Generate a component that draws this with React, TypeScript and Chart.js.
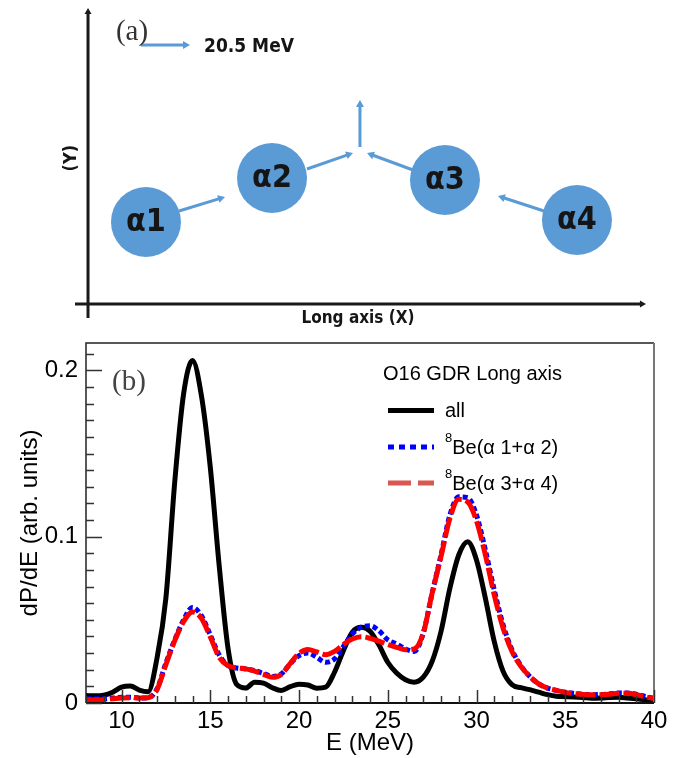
import React, { useEffect, useRef } from 'react';
import { Chart, registerables } from 'chart.js';

Chart.register(...registerables);

const SANS = '"Liberation Sans", Arial, Helvetica, sans-serif';
const SERIF = '"Liberation Serif", "Times New Roman", serif';
const COND = '"DejaVu Sans Condensed", "DejaVu Sans", sans-serif';

// ---------------- Panel (a): diagram (units: x 0..100, y 0..50) ----------------
const ALPHA_LABELS = ['α1', 'α2', 'α3', 'α4'];
const ALPHA_X = [21.31, 39.71, 64.96, 84.23];
const ALPHA_Y = [16.87, 23.43, 23.13, 17.16];

// momentum arrows: α1→α2, α2→centre, α3→centre, α4→α3, upward, scale arrow
const ARROW_X0 = [26.13, 44.82, 60.29, 79.42, 52.55, 20.58];
const ARROW_Y0 = [18.51, 24.78, 24.63, 18.51, 28.06, 43.28];
const ARROW_X1 = [32.85, 51.53, 53.58, 72.7, 52.55, 27.74];
const ARROW_Y1 = [20.6, 27.16, 27.16, 20.75, 35.07, 43.28];

// diagram axes: long axis (X) and (Y)
const AXIS_X0 = [10.95, 12.85];
const AXIS_Y0 = [4.63, 2.54];
const AXIS_X1 = [94.3, 12.85];
const AXIS_Y1 = [4.63, 48.8];

const SCALE_LABEL = '20.5 MeV';
const SCALE_LABEL_POS = [29.78, 42.99];
const LONG_AXIS_TITLE = 'Long axis (X)';
const LONG_AXIS_POS = [52.26, 2.39];
const Y_TITLE = '(Y)';
const Y_TITLE_POS = [10.4, 26.4];
const PANEL_A = '(a)';
const PANEL_A_POS = [19.27, 45.2];

// ---------------- Panel (b): dP/dE spectra ----------------
const ENERGY = [
  8, 8.5, 9, 9.5, 10, 10.5, 11, 11.5, 12, 12.5, 13, 13.5, 14, 14.5, 15, 15.5,
  16, 16.5, 17, 17.5, 18, 18.5, 19, 19.5, 20, 20.5, 21, 21.5, 22, 22.5, 23, 23.5,
  24, 24.5, 25, 25.5, 26, 26.5, 27, 27.5, 28, 28.5, 29, 29.5, 30, 30.5, 31, 31.5,
  32, 32.5, 33, 33.5, 34, 34.5, 35, 35.5, 36, 36.5, 37, 37.5, 38, 38.5, 39, 39.5, 40,
];
const DPDE_ALL = [
  0.0045, 0.0043, 0.0047, 0.0065, 0.0095, 0.0102, 0.0078, 0.0068, 0.027, 0.063, 0.133, 0.186, 0.206, 0.185, 0.142, 0.083,
  0.033, 0.011, 0.009, 0.0125, 0.012, 0.0092, 0.0075, 0.0098, 0.0113, 0.0108, 0.0089, 0.0095, 0.0185, 0.0315, 0.0425, 0.0455,
  0.0432, 0.035, 0.0245, 0.018, 0.014, 0.0125, 0.0155, 0.025, 0.043, 0.069, 0.089, 0.097, 0.086, 0.063, 0.037, 0.019,
  0.011, 0.0092, 0.008, 0.0065, 0.005, 0.004, 0.0038, 0.0036, 0.0033, 0.0029, 0.003, 0.0033, 0.0034, 0.003, 0.0025, 0.0019, 0.0012,
];
const DPDE_BE12 = [
  0.0025, 0.0025, 0.0025, 0.003, 0.0035, 0.0035, 0.003, 0.0033, 0.0085, 0.024, 0.038, 0.05, 0.0575, 0.0525, 0.041, 0.029,
  0.0225, 0.021, 0.0205, 0.0195, 0.0178, 0.016, 0.0175, 0.0235, 0.0285, 0.03, 0.0275, 0.0245, 0.0265, 0.034, 0.0415, 0.0455,
  0.0465, 0.0435, 0.038, 0.0355, 0.0325, 0.031, 0.042, 0.066, 0.089, 0.113, 0.124, 0.1235, 0.113, 0.092, 0.068, 0.047,
  0.032, 0.0225, 0.016, 0.0115, 0.009, 0.0076, 0.0065, 0.0057, 0.0052, 0.005, 0.0051, 0.0055, 0.006, 0.006, 0.0053, 0.004, 0.0028,
];
const DPDE_BE34 = [
  0.002, 0.002, 0.002, 0.0025, 0.003, 0.0032, 0.003, 0.0032, 0.008, 0.023, 0.0375, 0.049, 0.0548, 0.051, 0.0398, 0.0275,
  0.0225, 0.0212, 0.0205, 0.0192, 0.0172, 0.0155, 0.0172, 0.0237, 0.0298, 0.0321, 0.0307, 0.029, 0.031, 0.0352, 0.0385, 0.0399,
  0.0389, 0.0372, 0.0352, 0.0335, 0.032, 0.0325, 0.042, 0.066, 0.088, 0.111, 0.1225, 0.121, 0.1095, 0.089, 0.065, 0.045,
  0.031, 0.022, 0.016, 0.0115, 0.009, 0.0076, 0.0064, 0.0056, 0.0051, 0.0049, 0.005, 0.0053, 0.0059, 0.0058, 0.005, 0.0038, 0.0026,
];

const X_MIN = 8;
const X_MAX = 40;
const Y_MIN = 0;
const Y_MAX = 0.2165;
const X_TICKS = [10, 15, 20, 25, 30, 35, 40];
const X_TICK_LABELS = ['10', '15', '20', '25', '30', '35', '40'];
const Y_TICKS = [0, 0.1, 0.2];
const Y_TICK_LABELS = ['0', '0.1', '0.2'];
const X_MINOR_STEP = 1;
const Y_MINOR_STEP = 0.01;

const LEGEND_HEADER = 'O16 GDR Long axis';
const SERIES_NAMES = ['all', '8Be(α 1+α 2)', '8Be(α 3+α 4)'];
const LEGEND_SUP = ['', '8', '8'];
const LEGEND_TEXT = ['all', 'Be(α 1+α 2)', 'Be(α 3+α 4)'];
const PANEL_B = '(b)';

function drawArrow(
  ctx: CanvasRenderingContext2D,
  x0: number, y0: number, x1: number, y1: number,
  color: string, width: number, head: number, half: number,
) {
  const dx = x1 - x0;
  const dy = y1 - y0;
  const len = Math.hypot(dx, dy) || 1;
  const ux = dx / len;
  const uy = dy / len;
  ctx.save();
  ctx.strokeStyle = color;
  ctx.fillStyle = color;
  ctx.lineWidth = width;
  ctx.lineCap = 'butt';
  ctx.beginPath();
  ctx.moveTo(x0, y0);
  ctx.lineTo(x1 - ux * head * 0.7, y1 - uy * head * 0.7);
  ctx.stroke();
  ctx.beginPath();
  ctx.moveTo(x1, y1);
  ctx.lineTo(x1 - ux * head - uy * half, y1 - uy * head + ux * half);
  ctx.lineTo(x1 - ux * head + uy * half, y1 - uy * head - ux * half);
  ctx.closePath();
  ctx.fill();
  ctx.restore();
}

const diagramPlugin = {
  id: 'diagram',
  beforeDatasetsDraw(chart: any) {
    const { ctx } = chart;
    const sx = chart.scales.x;
    const sy = chart.scales.y;
    const px = (v: number) => sx.getPixelForValue(v);
    const py = (v: number) => sy.getPixelForValue(v);
    for (let i = 0; i < AXIS_X0.length; i++) {
      drawArrow(ctx, px(AXIS_X0[i]), py(AXIS_Y0[i]), px(AXIS_X1[i]), py(AXIS_Y1[i]), '#1a1a1a', 3, 6, 3.5);
    }
    for (let i = 0; i < ARROW_X0.length; i++) {
      drawArrow(ctx, px(ARROW_X0[i]), py(ARROW_Y0[i]), px(ARROW_X1[i]), py(ARROW_Y1[i]), '#5b9bd5', 3, 7, 4);
    }
  },
  afterDatasetsDraw(chart: any) {
    const { ctx } = chart;
    const sx = chart.scales.x;
    const sy = chart.scales.y;
    const px = (v: number) => sx.getPixelForValue(v);
    const py = (v: number) => sy.getPixelForValue(v);
    ctx.save();
    (ctx as any).fontStretch = 'condensed';
    ctx.fillStyle = '#151515';
    ctx.textAlign = 'center';
    ctx.textBaseline = 'middle';
    ctx.font = `bold 32px ${COND}`;
    for (let i = 0; i < ALPHA_LABELS.length; i++) {
      ctx.fillText(ALPHA_LABELS[i], px(ALPHA_X[i]), py(ALPHA_Y[i]) + 1);
    }
    ctx.font = `bold 19px ${COND}`;
    ctx.textAlign = 'left';
    ctx.fillText(SCALE_LABEL, px(SCALE_LABEL_POS[0]), py(SCALE_LABEL_POS[1]));
    ctx.font = `bold 17px ${COND}`;
    ctx.textAlign = 'center';
    ctx.fillText(LONG_AXIS_TITLE, px(LONG_AXIS_POS[0]), py(LONG_AXIS_POS[1]));
    ctx.save();
    ctx.translate(px(Y_TITLE_POS[0]), py(Y_TITLE_POS[1]));
    ctx.rotate(-Math.PI / 2);
    ctx.font = `bold 18px ${COND}`;
    ctx.fillText(Y_TITLE, 0, 0);
    ctx.restore();
    (ctx as any).fontStretch = 'normal';
    ctx.fillStyle = '#333';
    ctx.font = `29px ${SERIF}`;
    ctx.fillText(PANEL_A, px(PANEL_A_POS[0]), py(PANEL_A_POS[1]));
    ctx.restore();
  },
};

const spectrumPlugin = {
  id: 'spectrumDecor',
  afterDatasetsDraw(chart: any) {
    const { ctx, chartArea } = chart;
    const { left, right, top, bottom } = chartArea;
    const sx = chart.scales.x;
    const sy = chart.scales.y;
    ctx.save();
    // frame
    ctx.lineWidth = 1.5;
    ctx.strokeStyle = '#222';
    ctx.beginPath();
    ctx.moveTo(left, bottom);
    ctx.lineTo(left, top);
    ctx.lineTo(right, top);
    ctx.stroke();
    ctx.strokeStyle = '#777';
    ctx.lineWidth = 2;
    ctx.beginPath();
    ctx.moveTo(right, top);
    ctx.lineTo(right, bottom);
    ctx.stroke();
    ctx.strokeStyle = '#111';
    ctx.lineWidth = 2;
    ctx.beginPath();
    ctx.moveTo(left, bottom);
    ctx.lineTo(right, bottom);
    ctx.stroke();
    // inside ticks
    ctx.strokeStyle = '#333';
    ctx.lineWidth = 1.5;
    ctx.beginPath();
    for (let v = Math.ceil(X_MIN); v <= X_MAX + 1e-9; v += X_MINOR_STEP) {
      const x = Math.round(sx.getPixelForValue(v)) + 0.5;
      const major = Math.abs(v % 5) < 1e-9;
      ctx.moveTo(x, bottom);
      ctx.lineTo(x, bottom - (major ? 13 : 7));
    }
    for (let k = 0; Y_MIN + k * Y_MINOR_STEP <= Y_MAX + 1e-9; k++) {
      const v = Y_MIN + k * Y_MINOR_STEP;
      const y = Math.round(sy.getPixelForValue(v)) + 0.5;
      const major = k % 10 === 0;
      ctx.moveTo(left, y);
      ctx.lineTo(left + (major ? 16 : 8), y);
    }
    ctx.stroke();

    // panel label
    ctx.fillStyle = '#444';
    ctx.font = `29px ${SERIF}`;
    ctx.textAlign = 'left';
    ctx.textBaseline = 'middle';
    ctx.fillText(PANEL_B, left + 26, top + 39);

    // legend
    ctx.fillStyle = '#000';
    ctx.font = `20px ${SANS}`;
    ctx.fillText(LEGEND_HEADER, left + 297, top + 31);
    const rows = [67.5, 104, 140];
    const sampleColors = ['#000000', '#0000ff', '#d9574f'];
    const sampleDash = [[], [6, 5], [23, 7]];
    const dsIndex = [2, 1, 0];
    for (let i = 0; i < rows.length; i++) {
      const ds = chart.data.datasets[dsIndex[i]];
      const y = top + rows[i];
      ctx.save();
      ctx.strokeStyle = sampleColors[i];
      ctx.lineWidth = ds.borderWidth;
      ctx.setLineDash(sampleDash[i]);
      ctx.beginPath();
      ctx.moveTo(left + 302, y);
      ctx.lineTo(left + 348, y);
      ctx.stroke();
      ctx.restore();
      let tx = left + 359;
      if (LEGEND_SUP[i]) {
        ctx.font = `13px ${SANS}`;
        ctx.fillText(LEGEND_SUP[i], tx, y - 9);
        tx += ctx.measureText(LEGEND_SUP[i]).width;
      }
      ctx.font = `20px ${SANS}`;
      ctx.fillText(LEGEND_TEXT[i], tx, y + 1);
    }
    ctx.restore();
  },
};

export default function App() {
  const topRef = useRef<HTMLCanvasElement>(null);
  const botRef = useRef<HTMLCanvasElement>(null);

  useEffect(() => {
    const top = new Chart(topRef.current as HTMLCanvasElement, {
      type: 'bubble',
      data: {
        datasets: [
          {
            data: ALPHA_X.map((x, i) => ({ x, y: ALPHA_Y[i], r: 35 })),
            backgroundColor: '#5b9bd5',
            borderWidth: 0,
            hoverRadius: 0,
          } as any,
        ],
      },
      options: {
        animation: false,
        responsive: false,
        events: [],
        layout: { padding: 0, autoPadding: false },
        scales: {
          x: { type: 'linear', min: 0, max: 100, display: false },
          y: { type: 'linear', min: 0, max: 50, display: false },
        },
        plugins: { legend: { display: false }, tooltip: { enabled: false } },
      } as any,
      plugins: [diagramPlugin],
    });

    const mk = (vals: number[]) => ENERGY.map((e, i) => ({ x: e, y: vals[i] }));
    const bottom = new Chart(botRef.current as HTMLCanvasElement, {
      type: 'line',
      data: {
        datasets: [
          {
            label: SERIES_NAMES[2],
            data: mk(DPDE_BE34),
            borderColor: '#ff0000',
            borderWidth: 5,
            borderDash: [20, 4],
            pointRadius: 0,
            cubicInterpolationMode: 'monotone',
            fill: false,
            order: 0,
          },
          {
            label: SERIES_NAMES[1],
            data: mk(DPDE_BE12),
            borderColor: '#0000ff',
            borderWidth: 5,
            borderDash: [5, 3],
            pointRadius: 0,
            cubicInterpolationMode: 'monotone',
            fill: false,
            order: 1,
          },
          {
            label: SERIES_NAMES[0],
            data: mk(DPDE_ALL),
            borderColor: '#000000',
            borderWidth: 5,
            pointRadius: 0,
            cubicInterpolationMode: 'monotone',
            fill: false,
            order: 2,
          },
        ] as any,
      },
      options: {
        animation: false,
        responsive: false,
        events: [],
        layout: { padding: { top: 8, right: 31, left: 0, bottom: 0 }, autoPadding: false },
        scales: {
          x: {
            type: 'linear',
            min: X_MIN,
            max: X_MAX,
            afterBuildTicks: (s: any) => {
              s.ticks = X_TICKS.map((v) => ({ value: v }));
            },
            afterFit: (s: any) => {
              s.height = 55;
              s.paddingLeft = 0;
              s.paddingRight = 0;
            },
            ticks: {
              callback: (_v: any, i: number) => X_TICK_LABELS[i],
              font: { family: SANS, size: 24 },
              color: '#000',
              padding: 4,
              maxRotation: 0,
              autoSkip: false,
            },
            grid: { display: false, drawTicks: false },
            border: { display: false },
            title: {
              display: true,
              text: 'E (MeV)',
              font: { family: SANS, size: 24 },
              color: '#000',
              padding: 0,
            },
          },
          y: {
            type: 'linear',
            min: Y_MIN,
            max: Y_MAX,
            afterBuildTicks: (s: any) => {
              s.ticks = Y_TICKS.map((v) => ({ value: v }));
            },
            afterFit: (s: any) => {
              s.width = 86;
              s.paddingTop = 0;
              s.paddingBottom = 0;
            },
            ticks: {
              callback: (_v: any, i: number) => Y_TICK_LABELS[i],
              font: { family: SANS, size: 24 },
              color: '#000',
              padding: 8,
              autoSkip: false,
            },
            grid: { display: false, drawTicks: false },
            border: { display: false },
            title: {
              display: true,
              text: 'dP/dE (arb. units)',
              font: { family: SANS, size: 24 },
              color: '#000',
              padding: { top: 15.6, bottom: 0 },
            },
          },
        },
        plugins: { legend: { display: false }, tooltip: { enabled: false } },
      } as any,
      plugins: [spectrumPlugin],
    });

    return () => {
      top.destroy();
      bottom.destroy();
    };
  }, []);

  return (
    <div style={{ position: 'absolute', left: 0, top: 0, width: 685, height: 758, background: '#fff' }}>
      <canvas ref={topRef} width={685} height={335} style={{ position: 'absolute', left: 0, top: 0, display: 'block' }} />
      <canvas ref={botRef} width={685} height={423} style={{ position: 'absolute', left: 0, top: 335, display: 'block' }} />
    </div>
  );
}
